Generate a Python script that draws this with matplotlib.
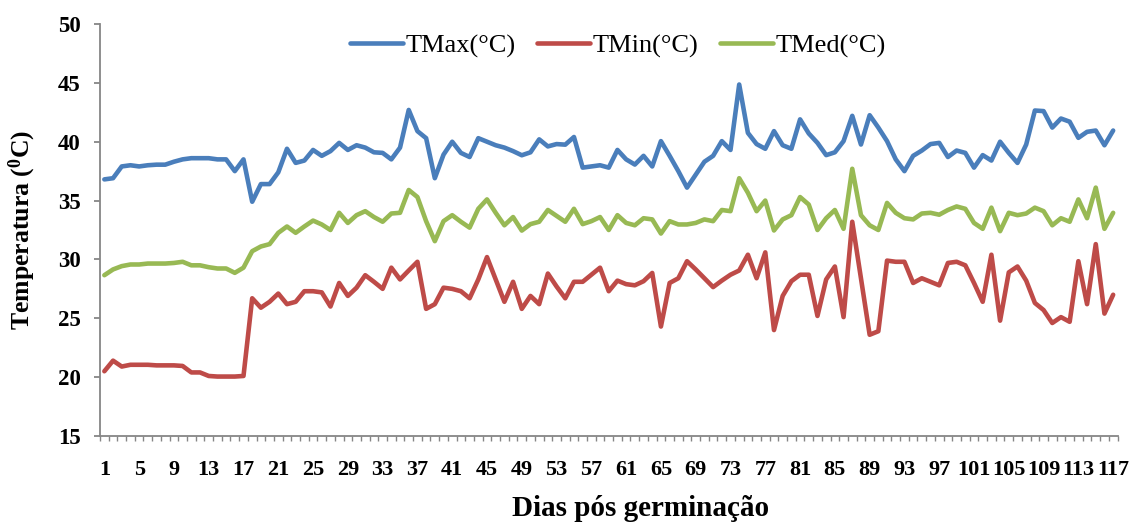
import numpy as np
import matplotlib
matplotlib.use('Agg')
import matplotlib.pyplot as plt

plt.rcParams['font.family'] = ['Liberation Serif', 'DejaVu Serif']
plt.rcParams['mathtext.fontset'] = 'custom'
plt.rcParams['mathtext.bf'] = 'Liberation Serif:bold'
plt.rcParams['mathtext.rm'] = 'Liberation Serif'

days = list(range(1, 118))

tmax = [36.8, 36.9, 37.9, 38.0, 37.9, 38.0, 38.05, 38.05, 38.3, 38.5,
        38.6, 38.6, 38.6, 38.5, 38.5, 37.5, 38.5, 34.9, 36.4, 36.4,
        37.4, 39.4, 38.2, 38.4, 39.3, 38.8, 39.2, 39.9, 39.3, 39.7,
        39.5, 39.1, 39.05, 38.5, 39.5, 42.7, 40.9, 40.3, 36.9, 38.9,
        40.0, 39.05, 38.7, 40.3, 40.0, 39.7, 39.5, 39.2, 38.85, 39.1,
        40.2, 39.6, 39.8, 39.75, 40.4, 37.8, 37.9, 38.0, 37.8, 39.3,
        38.5, 38.06, 38.8, 37.9, 40.05, 38.8, 37.5, 36.1, 37.2, 38.3,
        38.8, 40.05, 39.3, 44.86, 40.75, 39.8, 39.4, 40.9, 39.7, 39.4,
        41.9, 40.7, 39.9, 38.86, 39.1, 40.05, 42.2, 39.76, 42.25, 41.2,
        40.05, 38.5, 37.5, 38.8, 39.25, 39.8, 39.9, 38.7, 39.25, 39.05,
        37.8, 38.86, 38.4, 40.0, 39.05, 38.2, 39.76, 42.65, 42.6, 41.2,
        41.97, 41.7, 40.33, 40.84, 40.95, 39.7, 40.95]

tmin = [20.5, 21.4, 20.9, 21.05, 21.05, 21.05, 21.0, 21.0, 21.0, 20.95,
        20.4, 20.4, 20.1, 20.05, 20.05, 20.05, 20.1, 26.7, 25.9, 26.4,
        27.1, 26.2, 26.4, 27.3, 27.3, 27.2, 26.0, 28.0, 26.9, 27.6,
        28.66, 28.1, 27.5, 29.3, 28.3, 29.06, 29.8, 25.8, 26.2, 27.6,
        27.5, 27.3, 26.7, 28.3, 30.2, 28.3, 26.4, 28.1, 25.8, 26.9,
        26.2, 28.8, 27.7, 26.7, 28.1, 28.1, 28.7, 29.3, 27.3, 28.2,
        27.9, 27.8, 28.15, 28.85, 24.3, 28.0, 28.4, 29.85, 29.15, 28.4,
        27.65, 28.2, 28.7, 29.06, 30.4, 28.4, 30.6, 24.0, 26.9, 28.15,
        28.7, 28.7, 25.2, 28.3, 29.4, 25.1, 33.2, 28.4, 23.6, 23.9,
        29.9, 29.8, 29.8, 28.0, 28.4, 28.1, 27.8, 29.7, 29.8, 29.5,
        28.0, 26.4, 30.4, 24.8, 28.9, 29.4, 28.2, 26.3, 25.7, 24.6,
        25.1, 24.7, 29.85, 26.2, 31.3, 25.4, 27.0]

tmed = [28.66, 29.15, 29.43, 29.57, 29.57, 29.65, 29.65, 29.65, 29.7, 29.8,
        29.5, 29.5, 29.34, 29.23, 29.23, 28.86, 29.3, 30.7, 31.1, 31.3,
        32.26, 32.8, 32.26, 32.8, 33.3, 32.97, 32.5, 33.96, 33.1, 33.76,
        34.1, 33.6, 33.2, 33.9, 33.96, 35.9, 35.3, 33.25, 31.55, 33.25,
        33.76, 33.2, 32.7, 34.3, 35.1, 33.96, 32.9, 33.6, 32.45, 33.0,
        33.2, 34.2, 33.7, 33.2, 34.3, 33.0, 33.25, 33.6, 32.5, 33.76,
        33.1, 32.9, 33.5, 33.4, 32.2, 33.25, 32.97, 32.97, 33.1, 33.4,
        33.25, 34.2, 34.1, 36.9, 35.66, 34.1, 35.0, 32.46, 33.4, 33.76,
        35.3, 34.66, 32.5, 33.5, 34.2, 32.6, 37.7, 33.76, 32.9, 32.5,
        34.8, 33.96, 33.5, 33.4, 33.9, 33.96, 33.8, 34.2, 34.5, 34.3,
        33.1, 32.6, 34.4, 32.4, 33.96, 33.76, 33.9, 34.4, 34.1, 32.9,
        33.5, 33.2, 35.1, 33.5, 36.1, 32.6, 33.96]

series_labels = ['TMax(°C)', 'TMin(°C)', 'TMed(°C)']
colors = ['#4A7EBB', '#BE4B48', '#98B954']
xtick_days = days[::4]
xtick_labels = [str(d) for d in xtick_days]
yticks = [15, 20, 25, 30, 35, 40, 45, 50]

W, H = 1132, 524
fig = plt.figure(figsize=(W / 100, H / 100), dpi=100)
ax = fig.add_axes([100 / W, 1 - 436 / H, (1117.5 - 100) / W, 412 / H])

for vals, lab, col in zip([tmax, tmin, tmed], series_labels, colors):
    ax.plot(days, vals, color=col, lw=3.3, label=lab,
            solid_joinstyle='round', solid_capstyle='round')

ax.set_xlim(0.5, 117.5)
ax.set_ylim(15, 50)
ax.set_xticks(xtick_days)
ax.set_xticklabels(xtick_labels)
ax.set_xticks(np.arange(0.5, 118, 1), minor=True)
ax.set_yticks(yticks)
ax.set_yticklabels([str(v) for v in yticks])

gray = '#868686'
for s in ['top', 'right']:
    ax.spines[s].set_visible(False)
for s in ['left', 'bottom']:
    ax.spines[s].set_color(gray)
    ax.spines[s].set_linewidth(1.3)

ax.tick_params(axis='x', which='major', length=0, pad=17)
ax.tick_params(axis='x', which='minor', length=3.5, color=gray, width=1)
ax.tick_params(axis='y', which='major', length=4, color=gray, width=1.3, pad=10)
for t in ax.get_xticklabels():
    t.set_fontsize(16)
    t.set_fontweight('bold')
for t in ax.get_yticklabels():
    t.set_fontsize(16.5)
    t.set_fontweight('bold')

fig.text(22 / W, 1 - 230 / H, r'Temperatura ($\mathbf{{}^{0}}$C)', rotation=90,
         fontsize=18.5, fontweight='bold', ha='center', va='center')
fig.text(641 / W, 1 - 508 / H, 'Dias pós germinação', fontsize=21,
         fontweight='bold', ha='center', va='center')

fig.legend(loc='center', bbox_to_anchor=(618 / W, 1 - 46 / H), ncol=3,
           frameon=False, fontsize=19, handlelength=2.0, handletextpad=0.12,
           columnspacing=0.8)

fig.savefig('out.png', dpi=100)
